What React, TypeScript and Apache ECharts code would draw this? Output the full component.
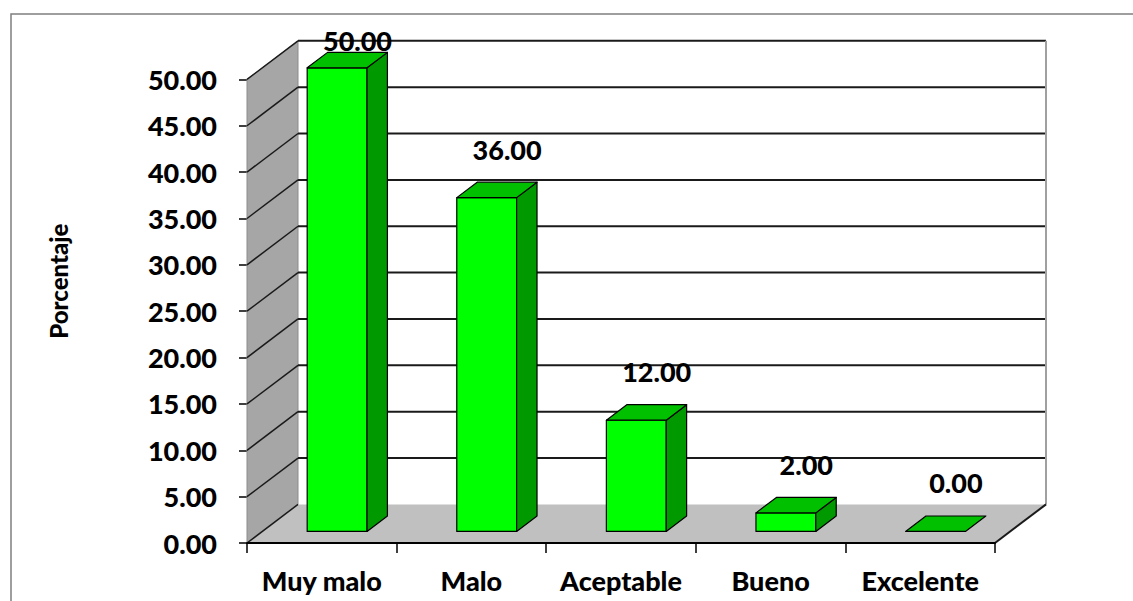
import React, { useEffect, useRef } from "react";
import * as echarts from "echarts";

const categories = ["Muy malo", "Malo", "Aceptable", "Bueno", "Excelente"];
const values = [50.0, 36.0, 12.0, 2.0, 0.0];
const yTicks = [0, 5, 10, 15, 20, 25, 30, 35, 40, 45, 50];
const yMin = 0;
const yMax = 50;
const yInterval = 5;
const yAxisName = "Porcentaje";

const DEPTH_X = 51;
const DEPTH_Y = -38.6;
const BAR_FRONT = 0.3;
const BAR_BACK = 0.7;
const BAR_WIDTH = 0.4;
const FONT = "Lato, 'Open Sans', sans-serif";
const WEIGHT = 900;

function shift(p: number[], f: number): number[] {
  return [p[0] + DEPTH_X * f, p[1] + DEPTH_Y * f];
}

export default function App() {
  const ref = useRef<HTMLDivElement>(null);
  useEffect(() => {
    if (!ref.current) return;
    const chart = echarts.init(ref.current, null, { renderer: "svg" });
    const n = categories.length;
    const option: any = {
      animation: false,
      backgroundColor: "#ffffff",
      graphic: [
        {
          type: "rect",
          z: 0,
          shape: { x: 11, y: 14, width: 1200, height: 700 },
          style: { fill: "none", stroke: "#7f7f7f", lineWidth: 1.5 },
        },
      ],
      grid: { left: 247, right: 138, top: 79.4, bottom: 58, containLabel: false },
      xAxis: {
        type: "category",
        data: categories,
        boundaryGap: true,
        z: 10,
        axisLine: { show: true, lineStyle: { color: "#000", width: 2 } },
        axisTick: { show: true, interval: 0, length: 10, lineStyle: { color: "#000", width: 1.5 } },
        axisLabel: {
          interval: 0,
          fontFamily: FONT,
          fontWeight: WEIGHT,
          fontSize: 27,
          color: "#000",
          margin: 24,
        },
        splitLine: { show: false },
      },
      yAxis: {
        type: "value",
        min: yMin,
        max: yMax,
        interval: yInterval,
        name: yAxisName,
        nameLocation: "middle",
        nameGap: 177,
        nameRotate: 90,
        nameTextStyle: {
          fontFamily: FONT,
          fontWeight: WEIGHT,
          fontSize: 24,
          color: "#000",
          padding: [0, 0, 0, 60],
        },
        axisLine: { show: true, lineStyle: { color: "#808080", width: 1 } },
        axisTick: { show: true, length: 8, lineStyle: { color: "#000", width: 1.5 } },
        axisLabel: {
          fontFamily: FONT,
          fontWeight: WEIGHT,
          fontSize: 27,
          color: "#000",
          margin: 30,
          formatter: (v: number) => v.toFixed(2),
        },
        splitLine: { show: false },
      },
      series: [
        {
          type: "custom",
          z: 1,
          silent: true,
          data: [[0, 0]],
          encode: { x: 0, y: 1 },
          renderItem: (params: any, api: any) => {
            const band = api.size([1, 0])[0];
            const x0 = api.coord([0, yMin])[0] - band / 2;
            const x1 = api.coord([n - 1, yMin])[0] + band / 2;
            const y0 = api.coord([0, yMin])[1];
            const yTop = api.coord([0, yMax])[1];
            const children: any[] = [];
            children.push({
              type: "polygon",
              shape: { points: [[x0, y0], [x0, yTop], shift([x0, yTop], 1), shift([x0, y0], 1)] },
              style: { fill: "#a6a6a6", stroke: "#8c8c8c", lineWidth: 1 },
            });
            children.push({
              type: "polygon",
              shape: { points: [[x0, y0], [x1, y0], shift([x1, y0], 1), shift([x0, y0], 1)] },
              style: { fill: "#c0c0c0", stroke: "none" },
            });
            yTicks.forEach((t) => {
              const y = api.coord([0, t])[1];
              if (t > yMin) {
                const a = shift([x0, y], 1);
                const b = shift([x1, y], 1);
                children.push({
                  type: "line",
                  shape: { x1: a[0], y1: a[1], x2: b[0], y2: b[1] },
                  style: { stroke: "#1a1a1a", lineWidth: 2 },
                });
              }
              const c = shift([x0, y], 1);
              children.push({
                type: "line",
                shape: { x1: x0, y1: y, x2: c[0], y2: c[1] },
                style: { stroke: "#1a1a1a", lineWidth: 1.5 },
              });
            });
            const rb = shift([x1, y0], 1);
            const rt = shift([x1, yTop], 1);
            children.push({
              type: "line",
              shape: { x1: rb[0], y1: rb[1], x2: rt[0], y2: rt[1] },
              style: { stroke: "#a0a0a0", lineWidth: 2 },
            });
            children.push({
              type: "line",
              shape: { x1: x1, y1: y0, x2: rb[0], y2: rb[1] },
              style: { stroke: "#1a1a1a", lineWidth: 2 },
            });
            return { type: "group", children };
          },
        },
        {
          type: "custom",
          z: 3,
          data: values.map((v, i) => [i, v]),
          encode: { x: 0, y: 1 },
          renderItem: (params: any, api: any) => {
            const c = api.value(0);
            const v = api.value(1);
            const band = api.size([1, 0])[0];
            const cx = api.coord([c, yMin])[0];
            const yb = api.coord([c, yMin])[1];
            const yt = api.coord([c, v])[1];
            const wallTop = api.coord([c, yMax])[1] + DEPTH_Y;
            const hw = (band * BAR_WIDTH) / 2;
            const flt = shift([cx - hw, yt], BAR_FRONT);
            const frt = shift([cx + hw, yt], BAR_FRONT);
            const frb = shift([cx + hw, yb], BAR_FRONT);
            const flb = shift([cx - hw, yb], BAR_FRONT);
            const blt = shift([cx - hw, yt], BAR_BACK);
            const brt = shift([cx + hw, yt], BAR_BACK);
            const brb = shift([cx + hw, yb], BAR_BACK);
            const children: any[] = [];
            const edge = { stroke: "#000", lineWidth: 1.2, lineJoin: "round" };
            if (v > 0) {
              children.push({
                type: "polygon",
                shape: { points: [flt, frt, frb, flb] },
                style: { fill: "#00ff00", ...edge },
              });
              children.push({
                type: "polygon",
                shape: { points: [frt, brt, brb, frb] },
                style: { fill: "#009900", ...edge },
              });
            }
            children.push({
              type: "polygon",
              shape: { points: [flt, frt, brt, blt] },
              style: { fill: "#00c000", ...edge },
            });
            const labelY = Math.max(wallTop, yt + DEPTH_Y * BAR_BACK - 33);
            children.push({
              type: "text",
              x: cx + DEPTH_X * BAR_BACK,
              y: labelY,
              style: {
                text: v.toFixed(2),
                fontFamily: FONT,
                fontWeight: WEIGHT,
                fontSize: 27,
                fill: "#000",
                align: "center",
                verticalAlign: "middle",
              },
            });
            return { type: "group", children };
          },
        },
      ],
    };
    chart.setOption(option);
    return () => chart.dispose();
  }, []);
  return (
    <div
      ref={ref}
      style={{ position: "fixed", left: 0, top: 0, width: 1133, height: 601 }}
    />
  );
}
